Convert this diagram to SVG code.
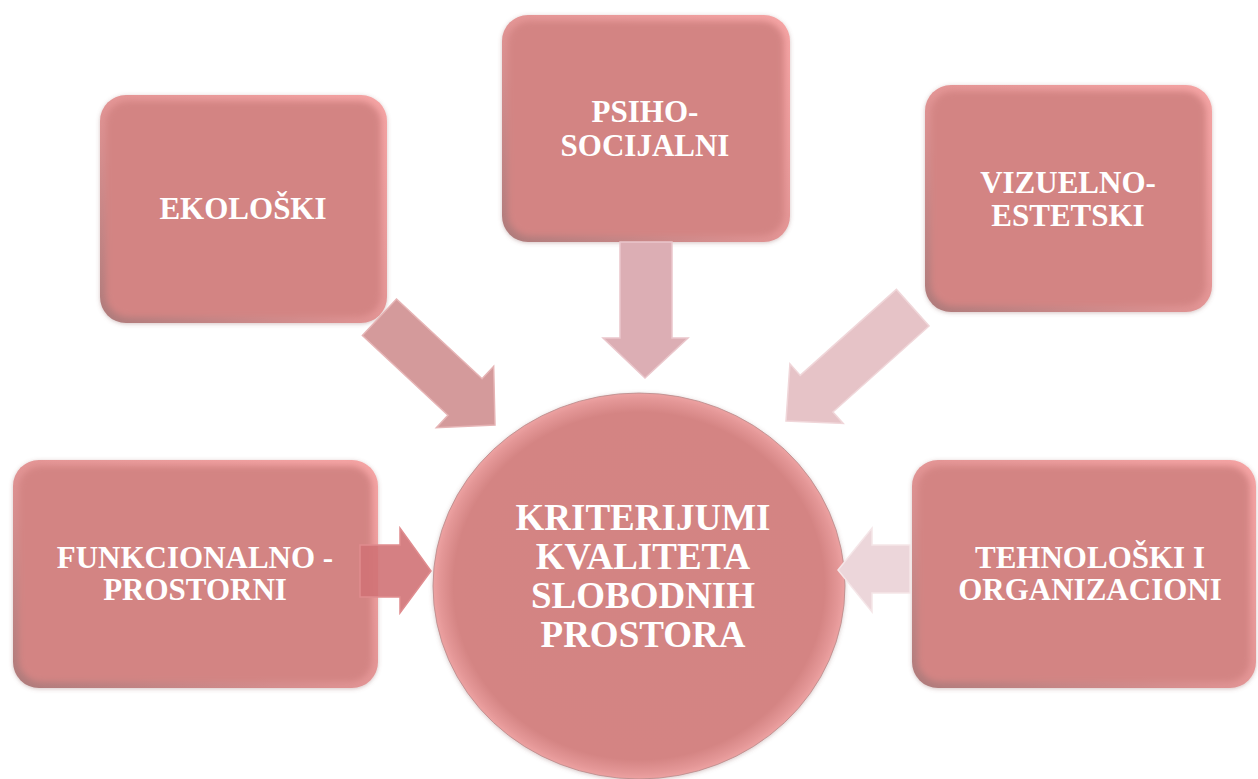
<svg xmlns="http://www.w3.org/2000/svg" width="1258" height="779" viewBox="0 0 1258 779">
<defs>
<linearGradient id="rim" x1="1" y1="0" x2="0" y2="1">
<stop offset="0" stop-color="#f6a5a5"/>
<stop offset="0.5" stop-color="#e39595"/>
<stop offset="1" stop-color="#ad7a7a"/>
</linearGradient>
<radialGradient id="cg" cx="0.5" cy="0.5" r="0.5">
<stop offset="0" stop-color="#d38483"/>
<stop offset="0.9" stop-color="#d48483"/>
<stop offset="0.97" stop-color="#e49797"/>
<stop offset="1" stop-color="#eda2a2"/>
</radialGradient>
<filter id="soft" x="-5%" y="-5%" width="110%" height="110%">
<feGaussianBlur stdDeviation="3"/>
</filter>
<filter id="sh" x="-10%" y="-10%" width="120%" height="120%">
<feGaussianBlur in="SourceAlpha" stdDeviation="2"/>
<feOffset dx="0" dy="1" result="b"/>
<feFlood flood-color="#8a5a5a" flood-opacity="0.35"/>
<feComposite in2="b" operator="in"/>
<feMerge><feMergeNode/><feMergeNode in="SourceGraphic"/></feMerge>
</filter>
</defs>
<style>
.rim{fill:url(#rim);filter:url(#sh)}
.face{fill:#d38483;filter:url(#soft)}
.t{font-family:"Liberation Serif","Times New Roman",serif;font-weight:bold;fill:#ffffff;text-anchor:middle}
.bt{font-size:31px}
.ct{font-size:37px}
.arr{stroke-width:1.5;stroke-linejoin:miter}
</style>
<rect width="1258" height="779" fill="#ffffff"/>

<g id="node-ekoloski">
<rect class="rim" x="100" y="95" width="287" height="228" rx="26"/>
<rect class="face" x="106" y="101" width="275" height="216" rx="22"/>
<text class="t bt" x="243" y="219">EKOLOŠKI</text>
</g>

<g id="node-psiho">
<rect class="rim" x="502" y="15" width="288" height="227" rx="26"/>
<rect class="face" x="508" y="21" width="276" height="215" rx="22"/>
<text class="t bt" x="645" y="122">PSIHO-</text>
<text class="t bt" x="645" y="156">SOCIJALNI</text>
</g>

<g id="node-vizuelno">
<rect class="rim" x="925" y="85" width="287" height="227" rx="26"/>
<rect class="face" x="931" y="91" width="275" height="215" rx="22"/>
<text class="t bt" x="1068" y="193">VIZUELNO-</text>
<text class="t bt" x="1068" y="226">ESTETSKI</text>
</g>

<g id="node-funkcionalno">
<rect class="rim" x="13" y="460" width="365" height="228" rx="26"/>
<rect class="face" x="19" y="466" width="353" height="216" rx="22"/>
<text class="t bt" x="195" y="568">FUNKCIONALNO -</text>
<text class="t bt" x="195" y="600">PROSTORNI</text>
</g>

<g id="node-tehnoloski">
<rect class="rim" x="912" y="460" width="344" height="228" rx="26"/>
<rect class="face" x="918" y="466" width="332" height="216" rx="22"/>
<text class="t bt" x="1090" y="568">TEHNOLOŠKI I</text>
<text class="t bt" x="1090" y="600">ORGANIZACIONI</text>
</g>

<g id="node-center">
<ellipse cx="639" cy="586" rx="206" ry="193" fill="url(#cg)" stroke="#b88a8a" stroke-width="0.8" filter="url(#sh)"/>
<text class="t ct" x="643" y="530">KRITERIJUMI</text>
<text class="t ct" x="643" y="569">KVALITETA</text>
<text class="t ct" x="643" y="608">SLOBODNIH</text>
<text class="t ct" x="643" y="647">PROSTORA</text>
</g>

<g id="connectors">
<polygon class="arr" fill="#dcaeb4" stroke="#eac6cb" points="620,242 672,242 672,338 688,338 645,378 603,338 620,338"/>
<polygon class="arr" fill="#d49a9b" stroke="#e6b4b5" transform="translate(495,425) rotate(43)" points="-158,-25 -41,-25 -41,-42 0,0 -41,42 -41,25 -158,25"/>
<polygon class="arr" fill="#e6c3c7" stroke="#f0d6d9" transform="translate(786,421) rotate(138.2)" points="-170,-24.5 -41,-24.5 -41,-40 0,0 -41,40 -41,24.5 -170,24.5"/>
<polygon class="arr" fill="#d07276" fill-opacity="0.9" stroke="#e08c8f" points="360,545 400,545 400,528 431,571 400,613 400,597 360,597"/>
<polygon class="arr" fill="#ecd6da" stroke="#f5e6e8" points="910,545 872,545 872,528 838,570 872,612 872,593 910,593"/>
</g>
</svg>
